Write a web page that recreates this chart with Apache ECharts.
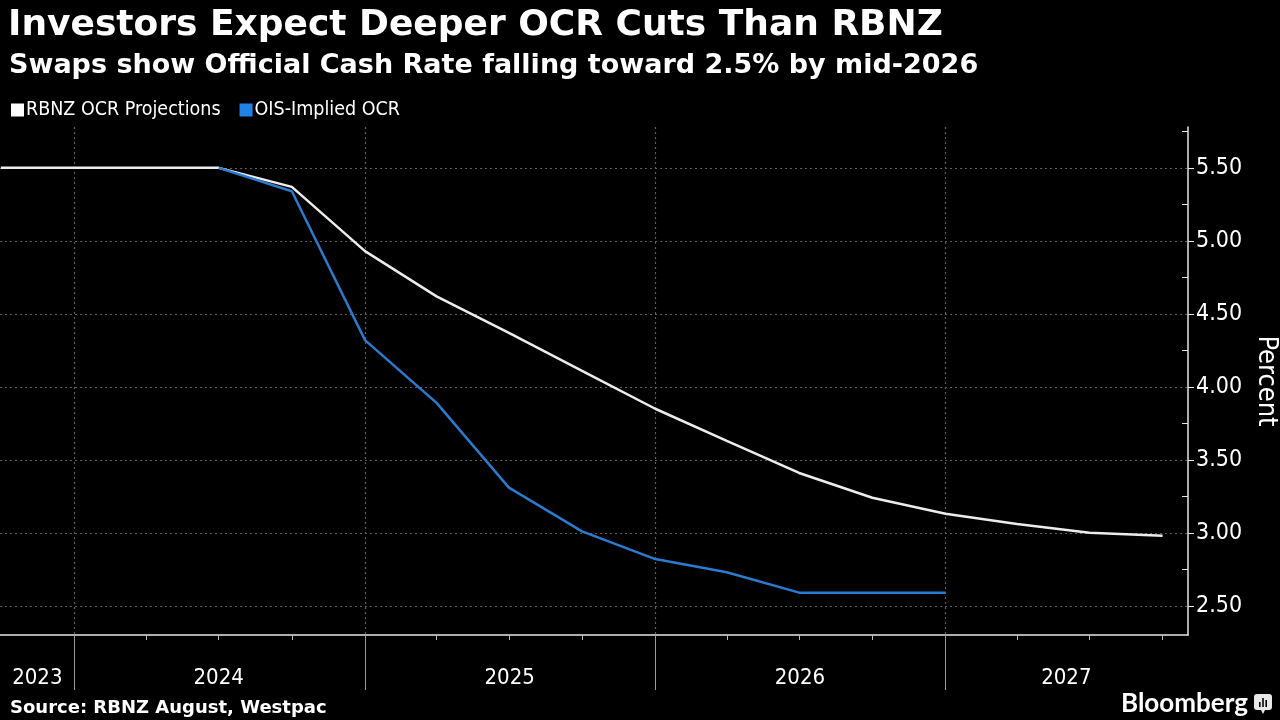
<!DOCTYPE html>
<html>
<head>
<meta charset="utf-8">
<script src="https://cdn.jsdelivr.net/npm/echarts@6/dist/echarts.min.js"></script>
<style>
html,body{margin:0;padding:0;background:#000;}
#chart{width:1280px;height:720px;}
</style>
</head>
<body>
<div id="chart"></div>
<script>
// ---- data ----
const rbnzDates = ['2023-10-01','2024-01-01','2024-04-01','2024-07-01','2024-10-01','2025-01-01','2025-04-01','2025-07-01','2025-10-01','2026-01-01','2026-04-01','2026-07-01','2026-10-01','2027-01-01','2027-04-01','2027-07-01','2027-10-01'];
const rbnzValues = [5.50,5.50,5.50,5.50,5.37,4.93,4.62,4.37,4.11,3.85,3.63,3.41,3.24,3.13,3.06,3.00,2.98];
const oisDates = ['2024-07-01','2024-10-01','2025-01-01','2025-04-01','2025-07-01','2025-10-01','2026-01-01','2026-04-01','2026-07-01','2026-10-01','2027-01-01'];
const oisValues = [5.50,5.34,4.32,3.89,3.31,3.01,2.82,2.73,2.59,2.59,2.59];
const yTickValues = [2.5,3.0,3.5,4.0,4.5,5.0,5.5];
const yMinorValues = [2.75,3.25,3.75,4.25,4.75,5.25,5.75];
const yearBoundaries = ['2024-01-01','2025-01-01','2026-01-01','2027-01-01'];
const quarterTicks = ['2024-04-01','2024-07-01','2024-10-01','2025-04-01','2025-07-01','2025-10-01','2026-04-01','2026-07-01','2026-10-01','2027-04-01','2027-07-01','2027-10-01'];
const yearLabelPositions = ['2023-11-16','2024-07-01','2025-07-02','2026-07-02','2027-06-02'];
const xMin = '2023-09-30';
const xMax = '2027-11-02';

const t = d => Date.parse(d + 'T00:00:00Z');
const chart = echarts.init(document.getElementById('chart'));
const lbl = 'DejaVu Sans Condensed, DejaVu Sans, sans-serif';
const bold = 'DejaVu Sans, sans-serif';
const gridCol = '#5e5e5e';
const xBase = {type: 'value', position: 'bottom', offset: 0, min: t(xMin), max: t(xMax), scale: true};
const option = {
  backgroundColor: '#000',
  animation: false,
  title: [
    {text: 'Investors Expect Deeper OCR Cuts Than RBNZ', left: 3, top: 3,
     textStyle: {color: '#fff', fontSize: 36, fontWeight: 'bold', fontFamily: bold}},
    {text: 'Swaps show Official Cash Rate falling toward 2.5% by mid-2026', left: 4, top: 47,
     textStyle: {color: '#fff', fontSize: 27, fontWeight: 'bold', fontFamily: bold}},
    {text: 'Source: RBNZ August, Westpac', left: 5, top: 694,
     textStyle: {color: '#fff', fontSize: 18, fontWeight: 'bold', fontFamily: bold}},
    {text: 'Bloomberg', left: 1116, top: 686,
     textStyle: {color: '#fff', fontSize: 26, fontWeight: 'bold', fontFamily: 'Lato, DejaVu Sans'}}
  ],
  legend: {
    left: 6, top: 95, itemWidth: 13, itemHeight: 13, itemGap: 19, icon: 'rect',
    textStyle: {color: '#fff', fontSize: 19.5, fontFamily: lbl, padding: [0,0,0,-3]},
    data: [
      {name: 'RBNZ OCR Projections', itemStyle: {color: '#ffffff'}},
      {name: 'OIS-Implied OCR', itemStyle: {color: '#1f82e6'}}
    ]
  },
  grid: {left: 0, right: 92, top: 127, bottom: 85, containLabel: false, outerBoundsMode: 'none'},
  xAxis: [
    Object.assign({}, xBase, {
     axisLine: {show: true, lineStyle: {color: '#e6e6e6', width: 1.5}},
     axisTick: {show: true, length: 5, inside: false, customValues: quarterTicks.map(t), lineStyle: {color: '#bbb'}},
     axisLabel: {show: false}, splitLine: {show: false}}),
    Object.assign({}, xBase, {
     axisLine: {show: false},
     axisTick: {show: true, length: 55, customValues: yearBoundaries.map(t), lineStyle: {color: '#999', width: 1}},
     axisLabel: {show: false},
     splitLine: {show: true, lineStyle: {color: gridCol, type: [2, 3], width: 1.2}}}),
    Object.assign({}, xBase, {
     axisLine: {show: false}, axisTick: {show: false}, splitLine: {show: false},
     axisLabel: {show: true, customValues: yearLabelPositions.map(t), margin: 32, color: '#fff', fontSize: 22, fontFamily: lbl,
       formatter: v => String(new Date(v).getUTCFullYear()), hideOverlap: false}})
  ],
  yAxis: [
    {type: 'value', position: 'right', offset: 0, min: 2.3, max: 5.78,
     axisLine: {show: true, lineStyle: {color: '#e6e6e6', width: 1.5}},
     axisTick: {show: true, length: 6, customValues: yTickValues, lineStyle: {color: '#e6e6e6'}},
     axisLabel: {show: true, customValues: yTickValues, color: '#fff', fontSize: 23, fontFamily: lbl, margin: 8,
       formatter: v => v.toFixed(2)},
     splitLine: {show: true, lineStyle: {color: gridCol, type: [2, 3], width: 1.2}},
     name: 'Percent', nameLocation: 'middle', nameRotate: -90, nameGap: 62,
     nameTextStyle: {color: '#fff', fontSize: 27, fontFamily: lbl}},
    {type: 'value', position: 'right', offset: 0, min: 2.3, max: 5.78,
     axisLine: {show: false},
     axisTick: {show: true, inside: true, length: 6, customValues: yMinorValues, lineStyle: {color: '#e6e6e6'}},
     axisLabel: {show: false}, splitLine: {show: false}}
  ],
  series: [
    {name: 'RBNZ OCR Projections', type: 'line', xAxisIndex: 0, yAxisIndex: 0, showSymbol: false, symbol: 'none',
     lineStyle: {color: '#ececec', width: 2.5}, itemStyle: {color: '#ffffff'},
     data: rbnzDates.map((d, i) => [t(d), rbnzValues[i]]), z: 3},
    {name: 'OIS-Implied OCR', type: 'line', xAxisIndex: 0, yAxisIndex: 0, showSymbol: false, symbol: 'none',
     lineStyle: {color: '#2a7bd0', width: 2.5}, itemStyle: {color: '#1f82e6'},
     data: oisDates.map((d, i) => [t(d), oisValues[i]]), z: 4}
  ],
  graphic: [
    {type: 'group', left: 1254, top: 694, children: [
      {type: 'rect', shape: {x: 0, y: 0, width: 18, height: 16, r: 3}, style: {fill: '#e8e8e8'}},
      {type: 'polygon', shape: {points: [[7,16],[11,16],[9,20]]}, style: {fill: '#e8e8e8'}},
      {type: 'rect', shape: {x: 5, y: 8, width: 1.6, height: 5}, style: {fill: '#000'}},
      {type: 'rect', shape: {x: 8.2, y: 4, width: 1.6, height: 9}, style: {fill: '#000'}},
      {type: 'rect', shape: {x: 11.4, y: 6, width: 1.6, height: 7}, style: {fill: '#000'}}
    ]}
  ]
};
chart.setOption(option);
</script>
</body>
</html>
